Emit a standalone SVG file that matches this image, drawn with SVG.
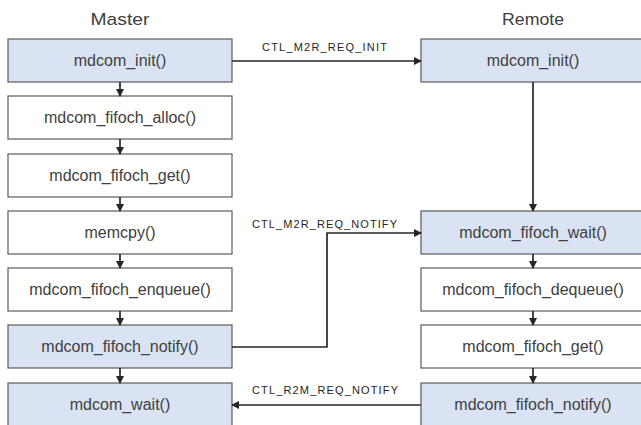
<svg xmlns="http://www.w3.org/2000/svg" width="641" height="425" viewBox="0 0 641 425">
<style>
.box{stroke:#5a5a5a;stroke-width:1.2}
.hl{fill:#dae3f3}
.pl{fill:#ffffff}
.t{font-family:"Liberation Sans","Noto Sans CJK JP",sans-serif;font-size:16px;fill:#404040;text-anchor:middle}
.title{font-family:"Liberation Sans","Noto Sans CJK JP",sans-serif;font-size:17px;fill:#404040;text-anchor:middle}
.lbl{font-family:"Liberation Sans","Noto Sans CJK JP",sans-serif;font-size:11px;fill:#262626}
.c{fill:none;stroke:#262626;stroke-width:1.7}
</style>
<defs>
<marker id="ah" markerWidth="8" markerHeight="8" refX="7" refY="4" orient="auto" markerUnits="userSpaceOnUse">
<path d="M0,0 L8,4 L0,8 Z" fill="#262626"/>
</marker>
</defs>
<rect width="641" height="425" fill="#ffffff"/>
<text class="title" x="120" y="25" textLength="59" lengthAdjust="spacingAndGlyphs">Master</text>
<text class="title" x="533" y="25" textLength="62" lengthAdjust="spacingAndGlyphs">Remote</text>

<g id="m_init"><rect class="box hl" x="8" y="39" width="224" height="43"/><text class="t" x="120" y="66">mdcom_init()</text></g>
<g id="m_alloc"><rect class="box pl" x="8" y="96" width="224" height="43"/><text class="t" x="120" y="123">mdcom_fifoch_alloc()</text></g>
<g id="m_get"><rect class="box pl" x="8" y="154" width="224" height="43"/><text class="t" x="120" y="181">mdcom_fifoch_get()</text></g>
<g id="m_memcpy"><rect class="box pl" x="8" y="211" width="224" height="43"/><text class="t" x="120" y="238">memcpy()</text></g>
<g id="m_enqueue"><rect class="box pl" x="8" y="268" width="224" height="43"/><text class="t" x="120" y="295">mdcom_fifoch_enqueue()</text></g>
<g id="m_notify"><rect class="box hl" x="8" y="325" width="224" height="43"/><text class="t" x="120" y="352">mdcom_fifoch_notify()</text></g>
<g id="m_wait"><rect class="box hl" x="8" y="383" width="224" height="43"/><text class="t" x="120" y="410">mdcom_wait()</text></g>

<g id="r_init"><rect class="box hl" x="421" y="39" width="224" height="43"/><text class="t" x="533" y="66">mdcom_init()</text></g>
<g id="r_wait"><rect class="box hl" x="421" y="211" width="224" height="43"/><text class="t" x="533" y="238">mdcom_fifoch_wait()</text></g>
<g id="r_dequeue"><rect class="box pl" x="421" y="268" width="224" height="43"/><text class="t" x="533" y="295">mdcom_fifoch_dequeue()</text></g>
<g id="r_get"><rect class="box pl" x="421" y="325" width="224" height="43"/><text class="t" x="533" y="352">mdcom_fifoch_get()</text></g>
<g id="r_notify"><rect class="box hl" x="421" y="383" width="224" height="43"/><text class="t" x="533" y="410">mdcom_fifoch_notify()</text></g>

<g id="connectors">
<line class="c" x1="120" y1="82" x2="120" y2="96" marker-end="url(#ah)"/>
<line class="c" x1="120" y1="139" x2="120" y2="154" marker-end="url(#ah)"/>
<line class="c" x1="120" y1="197" x2="120" y2="211" marker-end="url(#ah)"/>
<line class="c" x1="120" y1="254" x2="120" y2="268" marker-end="url(#ah)"/>
<line class="c" x1="120" y1="311" x2="120" y2="325" marker-end="url(#ah)"/>
<line class="c" x1="120" y1="368" x2="120" y2="383" marker-end="url(#ah)"/>
<line class="c" x1="533" y1="82" x2="533" y2="211" marker-end="url(#ah)"/>
<line class="c" x1="533" y1="254" x2="533" y2="268" marker-end="url(#ah)"/>
<line class="c" x1="533" y1="311" x2="533" y2="325" marker-end="url(#ah)"/>
<line class="c" x1="533" y1="368" x2="533" y2="383" marker-end="url(#ah)"/>
<line class="c" x1="232" y1="61" x2="421" y2="61" marker-end="url(#ah)"/>
<polyline class="c" points="232,347 327,347 327,233 421,233" marker-end="url(#ah)"/>
<line class="c" x1="421" y1="405" x2="232" y2="405" marker-end="url(#ah)"/>
<text class="lbl" x="262" y="51" textLength="125" lengthAdjust="spacing">CTL_M2R_REQ_INIT</text>
<text class="lbl" x="252" y="228" textLength="145" lengthAdjust="spacing">CTL_M2R_REQ_NOTIFY</text>
<text class="lbl" x="252" y="394" textLength="146" lengthAdjust="spacing">CTL_R2M_REQ_NOTIFY</text>
</g>
</svg>
